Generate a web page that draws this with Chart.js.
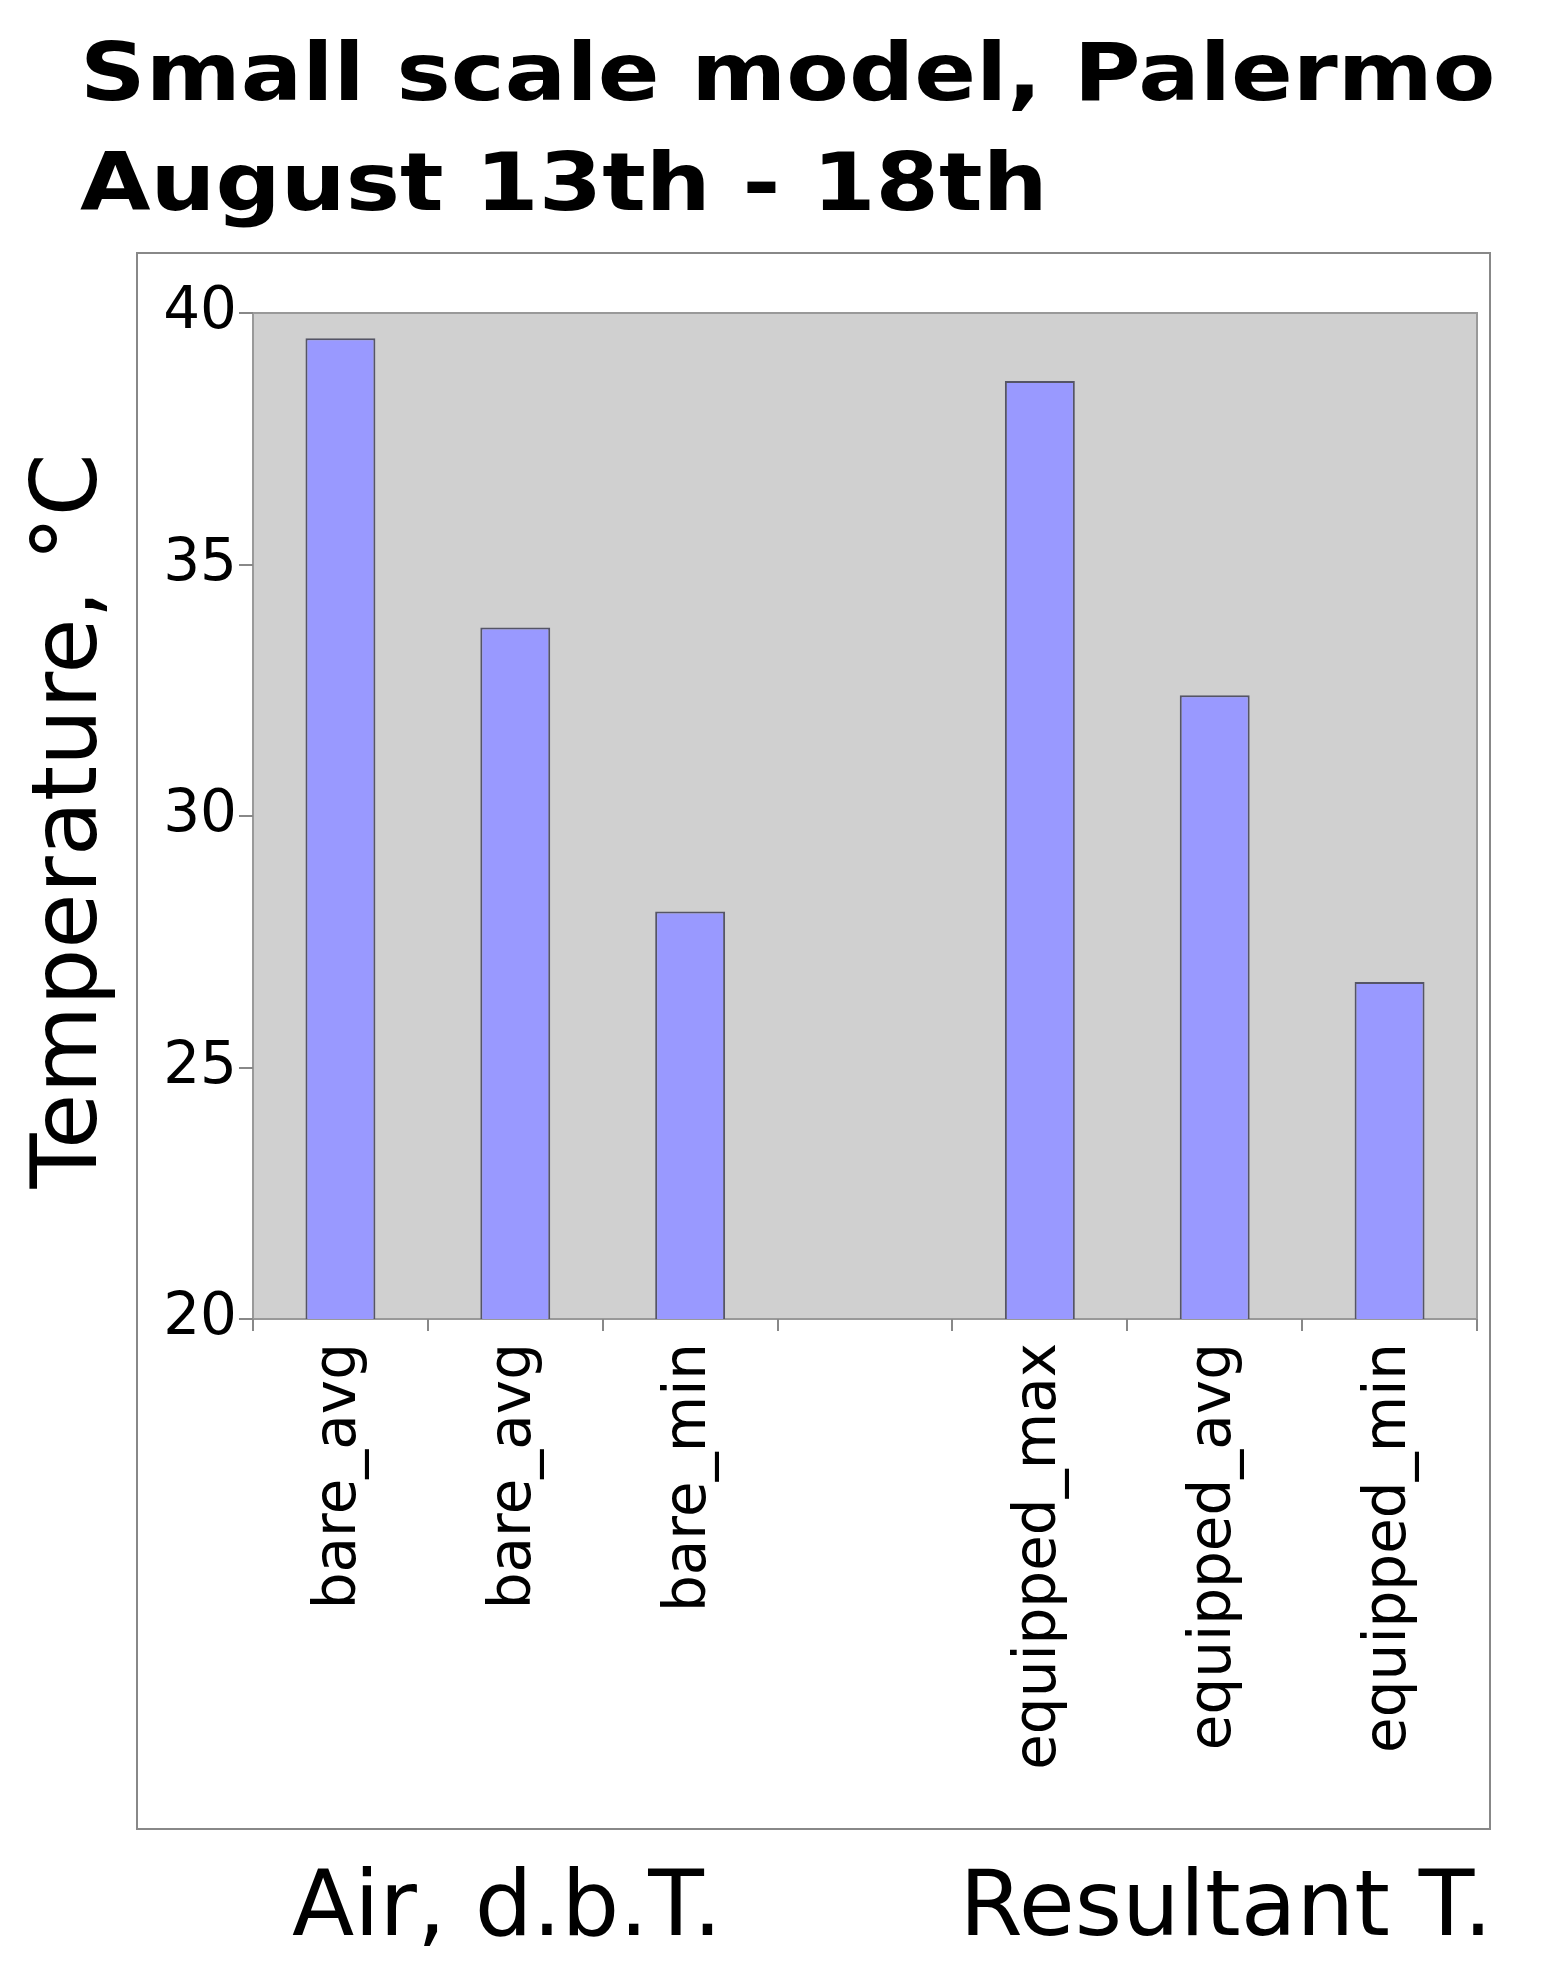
<!DOCTYPE html>
<html>
<head>
<meta charset="utf-8">
<script src="https://cdn.jsdelivr.net/npm/chart.js@4"></script>
<style>
  html, body { margin: 0; padding: 0; background: #fff; }
  #wrap { width: 1544px; height: 1986px; }
</style>
</head>
<body>
<div id="wrap"><canvas id="chart" width="1544" height="1986"></canvas></div>
<script>
// Chart data
const categories = ['bare_avg', 'bare_avg', 'bare_min', '', 'equipped_max', 'equipped_avg', 'equipped_min'];
const temperatures = [39.5, 33.75, 28.1, null, 38.65, 32.4, 26.7];
const yTicks = [20, 25, 30, 35, 40];
const titleLines = ['Small scale model, Palermo', 'August 13th - 18th'];
const groupLabels = ['Air, d.b.T.', 'Resultant T.'];

const FONT = "'DejaVu Sans', sans-serif";

// Draws titles, frame, plot background and group labels
const decorations = {
    id: 'decorations',
    beforeDraw(chart) {
        const { ctx, chartArea: a } = chart;
        ctx.save();
        ctx.fillStyle = '#fff';
        ctx.fillRect(0, 0, chart.width, chart.height);
        ctx.strokeStyle = '#888';
        ctx.lineWidth = 2;
        ctx.strokeRect(137, 253, 1353, 1576);
        ctx.fillStyle = '#d0d0d0';
        ctx.fillRect(a.left, a.top, a.right - a.left, a.bottom - a.top);
        ctx.strokeStyle = '#999';
        ctx.strokeRect(a.left, a.top, a.right - a.left, a.bottom - a.top);
        ctx.restore();
    },
    afterDraw(chart) {
        const { ctx, chartArea: a } = chart;
        ctx.save();
        ctx.fillStyle = '#000';
        ctx.textBaseline = 'alphabetic';

        // title glyphs in the reference are wider than DejaVu Bold
        ctx.save();
        ctx.translate(80, 0);
        ctx.scale(1.14, 1);
        ctx.font = `bold 80px ${FONT}`;
        ctx.textAlign = 'left';
        ctx.fillText(titleLines[0], 0, 100);
        ctx.fillText(titleLines[1], 0, 210);
        ctx.restore();

        ctx.font = `91px ${FONT}`;
        ctx.textAlign = 'center';
        ctx.fillText(groupLabels[0], 507, 1935);
        ctx.fillText(groupLabels[1], 1226, 1935);

        ctx.font = `90px ${FONT}`;
        ctx.translate(96, (a.top + a.bottom) / 2 + 5);
        ctx.rotate(-Math.PI / 2);
        ctx.fillText('Temperature, °C', 0, 0);
        ctx.restore();
    }
};

new Chart(document.getElementById('chart'), {
    type: 'bar',
    data: {
        labels: categories,
        datasets: [{
            data: temperatures,
            backgroundColor: '#9999ff',
            borderColor: '#555566',
            borderWidth: 2,
            barPercentage: 0.4,
            categoryPercentage: 1.0
        }]
    },
    options: {
        responsive: false,
        animation: false,
        events: [],
        layout: { padding: { top: 313, right: 67, left: 0, bottom: 0 } },
        plugins: { legend: { display: false }, tooltip: { enabled: false } },
        scales: {
            y: {
                min: 20,
                max: 40,
                afterFit: (s) => { s.width = 253; },
                afterBuildTicks: (s) => { s.ticks = yTicks.map(v => ({ value: v })); },
                grid: { drawOnChartArea: false, tickLength: 14, color: '#888', lineWidth: 2 },
                border: { display: false },
                ticks: { color: '#000', font: { family: FONT, size: 58 }, padding: 2 }
            },
            x: {
                offset: true,
                afterFit: (s) => { s.height = 667; },
                grid: { offset: true, drawOnChartArea: false, tickLength: 12, color: '#888', lineWidth: 2 },
                border: { display: false },
                ticks: {
                    color: '#000',
                    font: { family: FONT, size: 58 },
                    minRotation: 90,
                    maxRotation: 90,
                    padding: 12
                }
            }
        }
    },
    plugins: [decorations]
});
</script>
</body>
</html>
